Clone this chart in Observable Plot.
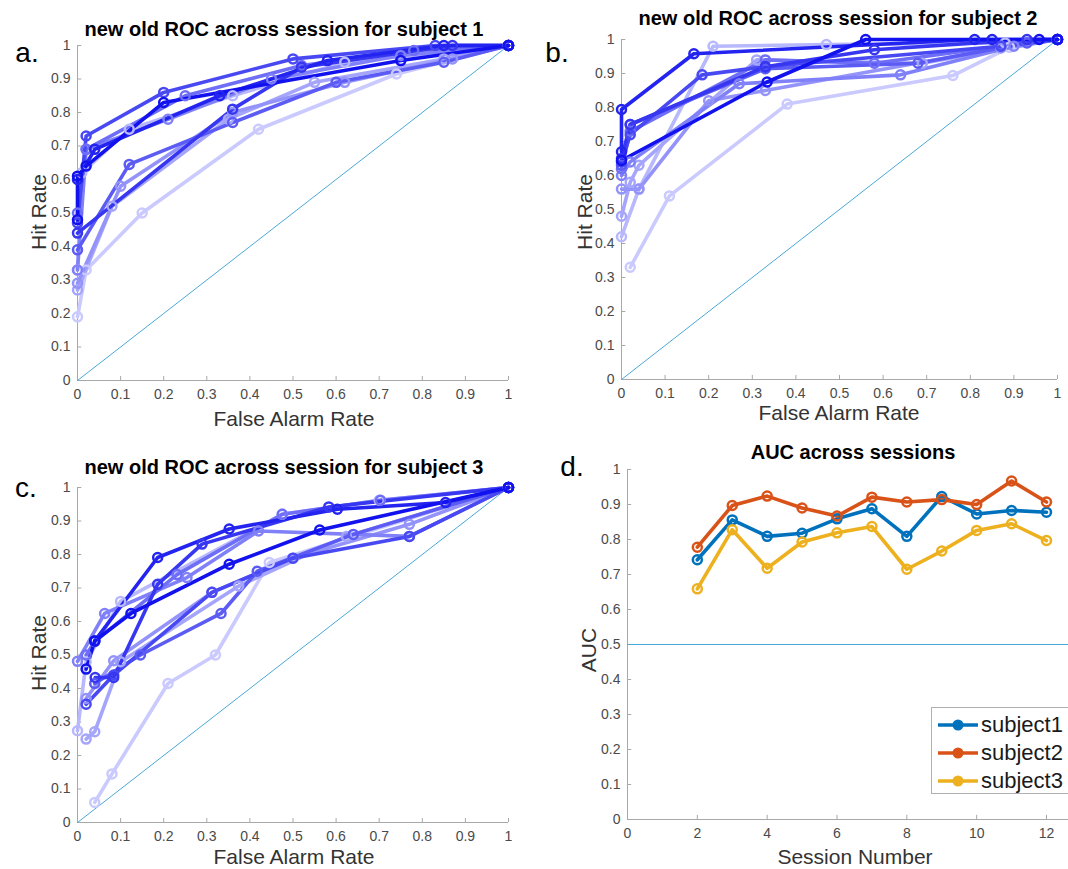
<!DOCTYPE html>
<html>
<head>
<meta charset="utf-8">
<script src="https://cdn.jsdelivr.net/npm/d3@7"></script>
<script src="https://cdn.jsdelivr.net/npm/@observablehq/plot@0.6"></script>
<style>
  body { margin: 0; background: #fff; }
  #root { position: relative; width: 1068px; height: 869px; overflow: hidden; font-family: "Liberation Sans", Arial, sans-serif; }
  .abs { position: absolute; }
  .ctr { transform: translate(-50%, -50%); white-space: nowrap; line-height: 1; }
  .title { font-weight: bold; font-size: 20px; color: #000; }
  .lab { font-size: 21px; color: #333; }
  .ylab { transform: translate(-50%, -50%) rotate(-90deg); white-space: nowrap; line-height: 1; }
  .letter { font-size: 28px; color: #000; }
</style>
</head>
<body>
<div id="root"></div>
<script>
// ---- data ----
const sessions = [2, 3, 4, 5, 6, 7, 8, 9, 10, 11, 12];

// subject 1 ROC: false alarm rate / hit rate per session
const s1FalseAlarm = [
  [0, 0.02, 0.15, 0.42, 0.74, 1],
  [0, 0.01, 0.12, 0.36, 0.62, 1],
  [0, 0.08, 0.35, 0.55, 0.85, 1],
  [0, 0.10, 0.36, 0.62, 0.87, 1],
  [0, 0.02, 0.21, 0.45, 0.75, 1],
  [0, 0.02, 0.25, 0.52, 0.78, 1],
  [0, 0.12, 0.36, 0.60, 0.85, 1],
  [0, 0.02, 0.20, 0.50, 0.83, 1],
  [0, 0.36, 0.52, 0.87, 1],
  [0, 0.04, 0.33, 0.58, 0.85, 1],
  [0, 0, 0.02, 0.20, 0.75, 1]
];
const s1Hit = [
  [0.19, 0.33, 0.50, 0.75, 0.915, 1],
  [0.33, 0.62, 0.75, 0.85, 0.95, 1],
  [0.27, 0.52, 0.78, 0.89, 0.96, 1],
  [0.29, 0.58, 0.80, 0.89, 0.96, 1],
  [0.33, 0.69, 0.78, 0.90, 0.97, 1],
  [0.50, 0.69, 0.85, 0.94, 0.985, 1],
  [0.39, 0.645, 0.77, 0.89, 0.95, 1],
  [0.47, 0.73, 0.86, 0.96, 1.0, 1],
  [0.44, 0.81, 0.935, 1.0, 1],
  [0.60, 0.69, 0.85, 0.955, 1.0, 1],
  [0.48, 0.61, 0.64, 0.83, 0.955, 1]
];

// subject 2 ROC
const s2FalseAlarm = [
  [0.02, 0.11, 0.38, 0.76, 0.89, 1],
  [0, 0.04, 0.21, 0.47, 0.88, 1],
  [0, 0.02, 0.04, 0.31, 0.69, 1],
  [0, 0.04, 0.20, 0.33, 0.87, 1],
  [0, 0.02, 0.27, 0.64, 0.90, 1],
  [0, 0.02, 0.33, 0.58, 0.87, 1],
  [0, 0.02, 0.33, 0.68, 0.93, 1],
  [0, 0.02, 0.185, 0.33, 0.87, 1],
  [0, 0.02, 0.33, 0.58, 0.93, 1],
  [0, 0, 0.166, 0.81, 0.85, 1],
  [0, 0.334, 0.56, 0.958, 1]
];
const s2Hit = [
  [0.33, 0.54, 0.81, 0.894, 0.977, 1],
  [0.42, 0.56, 0.98, 0.985, 0.99, 1],
  [0.48, 0.58, 0.63, 0.94, 0.93, 1],
  [0.56, 0.56, 0.82, 0.85, 0.975, 1],
  [0.60, 0.64, 0.87, 0.896, 0.98, 1],
  [0.62, 0.73, 0.94, 0.93, 0.98, 1],
  [0.63, 0.75, 0.914, 0.93, 0.99, 1],
  [0.64, 0.72, 0.896, 0.92, 0.98, 1],
  [0.65, 0.75, 0.92, 0.97, 1.0, 1],
  [0.67, 0.794, 0.958, 1.0, 1.0, 1],
  [0.644, 0.875, 1.0, 1.0, 1]
];

// subject 3 ROC
const s3FalseAlarm = [
  [0.04, 0.08, 0.21, 0.32, 0.445, 1],
  [0, 0.02, 0.10, 0.475, 0.70, 1],
  [0.02, 0.04, 0.10, 0.374, 0.624, 1],
  [0.02, 0.084, 0.312, 0.50, 0.77, 1],
  [0, 0.063, 0.254, 0.42, 0.77, 1],
  [0.02, 0.04, 0.231, 0.475, 0.703, 1],
  [0.04, 0.146, 0.333, 0.417, 0.64, 1],
  [0.02, 0.084, 0.312, 0.50, 0.77, 1],
  [0.041, 0.084, 0.186, 0.289, 0.583, 1],
  [0.04, 0.186, 0.352, 0.603, 0.854, 1],
  [0.02, 0.04, 0.124, 0.352, 0.562, 1]
];
const s3Hit = [
  [0.06, 0.145, 0.415, 0.50, 0.776, 1],
  [0.274, 0.48, 0.66, 0.92, 0.962, 1],
  [0.249, 0.271, 0.48, 0.706, 0.854, 1],
  [0.37, 0.483, 0.687, 0.789, 0.89, 1],
  [0.481, 0.624, 0.731, 0.87, 0.854, 1],
  [0.50, 0.54, 0.74, 0.92, 0.962, 1],
  [0.415, 0.50, 0.624, 0.75, 0.86, 1],
  [0.353, 0.44, 0.687, 0.789, 0.854, 1],
  [0.433, 0.433, 0.711, 0.831, 0.942, 1],
  [0.542, 0.791, 0.876, 0.935, 0.955, 1],
  [0.458, 0.542, 0.624, 0.771, 0.873, 1]
];

// AUC across sessions
const aucSessions = [2, 3, 4, 5, 6, 7, 8, 9, 10, 11, 12];
const aucSubject1 = [0.742, 0.856, 0.809, 0.818, 0.859, 0.888, 0.809, 0.923, 0.873, 0.883, 0.878];
const aucSubject2 = [0.778, 0.897, 0.924, 0.890, 0.867, 0.921, 0.907, 0.914, 0.900, 0.967, 0.907];
const aucSubject3 = [0.659, 0.828, 0.718, 0.793, 0.819, 0.837, 0.715, 0.767, 0.826, 0.845, 0.797];
const subjectNames = ["subject1", "subject2", "subject3"];
const subjectColors = ["#0072BD", "#D95319", "#EDB120"];

const rateTicks = d3.range(0, 11).map(i => i / 10);
const sessionTicks = [0, 2, 4, 6, 8, 10, 12];

// ---- drawing ----
const root = document.getElementById("root");
const fmt = d3.format("~g");
const axisCol = "#a8a8a8";
const plotStyle = {fontSize: "14px", fontFamily: "Liberation Sans, Arial, sans-serif", color: "#4a4a4a", background: "transparent", overflow: "visible"};

function place(el, left, top) {
  el.style.position = "absolute";
  el.style.left = left + "px";
  el.style.top = top + "px";
  root.appendChild(el);
}
function text(str, cls, x, y) {
  const d = document.createElement("div");
  d.className = "abs " + cls;
  d.textContent = str;
  d.style.left = x + "px";
  d.style.top = y + "px";
  root.appendChild(d);
}

function rocPanel(fa, hit, box) {
  const rows = [];
  sessions.forEach((s, i) => fa[i].forEach((x, j) => rows.push({session: s, x, y: hit[i][j]})));
  return Plot.plot({
    width: box.width, height: box.height,
    marginLeft: box.ml, marginRight: box.mr, marginTop: box.mt, marginBottom: box.mb,
    style: plotStyle,
    x: {domain: [0, 1]},
    y: {domain: [0, 1]},
    color: {type: "linear", domain: [2, 12], range: ["#cacaff", "#1212ee"]},
    marks: [
      Plot.ruleY([0], {stroke: axisCol}),
      Plot.ruleX([0], {stroke: axisCol}),
      Plot.ruleX(rateTicks, {x: d => d, y1: 0, y2: 0.012, stroke: axisCol}),
      Plot.ruleY(rateTicks, {y: d => d, x1: 0, x2: 0.01, stroke: axisCol}),
      Plot.axisX({ticks: rateTicks, tickFormat: fmt, tickSize: 0, tickPadding: 9, label: null}),
      Plot.axisY({ticks: rateTicks, tickFormat: fmt, tickSize: 0, tickPadding: 7, label: null}),
      Plot.line([0, 1], {x: d => d, y: d => d, stroke: "#4aa8d8", strokeWidth: 1}),
      Plot.line(rows, {x: "x", y: "y", z: "session", stroke: "session", strokeWidth: 3.6, curve: "linear"}),
      Plot.dot(rows, {x: "x", y: "y", stroke: "session", fill: "none", r: 4.5, strokeWidth: 2.5})
    ]
  });
}

// panel a
place(rocPanel(s1FalseAlarm, s1Hit, {width: 530, height: 440, ml: 77, mr: 22, mt: 45, mb: 60}), 0, 0);
// panel b
place(rocPanel(s2FalseAlarm, s2Hit, {width: 520, height: 420, ml: 81, mr: 3, mt: 39, mb: 41}), 540, 0);
// panel c
place(rocPanel(s3FalseAlarm, s3Hit, {width: 530, height: 380, ml: 77, mr: 22, mt: 27, mb: 18}), 0, 460);

// panel d
const aucRows = [];
[aucSubject1, aucSubject2, aucSubject3].forEach((arr, k) =>
  arr.forEach((v, i) => aucRows.push({subject: subjectNames[k], session: aucSessions[i], auc: v})));
const pd = Plot.plot({
  width: 508, height: 420,
  marginLeft: 67, marginRight: 0, marginTop: 39, marginBottom: 31,
  style: plotStyle,
  x: {domain: [0, 12.63]},
  y: {domain: [0, 1]},
  color: {domain: subjectNames, range: subjectColors},
  marks: [
    Plot.ruleY([0], {stroke: axisCol}),
    Plot.ruleX([0], {stroke: axisCol}),
    Plot.ruleX(sessionTicks, {x: d => d, y1: 0, y2: 0.012, stroke: axisCol}),
    Plot.ruleY(rateTicks, {y: d => d, x1: 0, x2: 0.12, stroke: axisCol}),
    Plot.axisX({ticks: sessionTicks, tickFormat: fmt, tickSize: 0, tickPadding: 9, label: null}),
    Plot.axisY({ticks: rateTicks, tickFormat: fmt, tickSize: 0, tickPadding: 7, label: null}),
    Plot.ruleY([0.5], {stroke: "#4aa8d8", strokeWidth: 1}),
    Plot.line(aucRows, {x: "session", y: "auc", z: "subject", stroke: "subject", strokeWidth: 3.6}),
    Plot.dot(aucRows, {x: "session", y: "auc", stroke: "subject", fill: "none", r: 4.5, strokeWidth: 2.5})
  ]
});
place(pd, 560, 430);

// legend for panel d
const leg = document.createElement("div");
leg.style.cssText = "position:absolute;left:931px;top:707px;width:150px;height:87px;border:1px solid #b0b0b0;background:#fff;box-sizing:border-box;";
subjectNames.forEach((name, i) => {
  const row = document.createElement("div");
  row.style.cssText = "position:absolute;left:5px;top:" + (3 + i * 28) + "px;height:28px;display:flex;align-items:center;";
  row.innerHTML = '<svg width="42" height="28"><line x1="1" y1="14" x2="41" y2="14" stroke="' + subjectColors[i] +
    '" stroke-width="3.6"/><circle cx="21" cy="14" r="4.5" fill="' + subjectColors[i] + '" stroke="' + subjectColors[i] +
    '" stroke-width="2"/></svg><span style="font-size:22px;color:#1a1a1a;margin-left:2px;">' + name + '</span>';
  leg.appendChild(row);
});
root.appendChild(leg);

// titles
text("new old ROC across session for subject 1", "title ctr", 284, 29);
text("new old ROC across session for subject 2", "title ctr", 838, 18);
text("new old ROC across session for subject 3", "title ctr", 284, 467);
text("AUC across sessions", "title ctr", 853, 452);
// axis labels
text("False Alarm Rate", "lab ctr", 294, 418);
text("False Alarm Rate", "lab ctr", 839, 412);
text("False Alarm Rate", "lab ctr", 294, 856);
text("Session Number", "lab ctr", 855, 856);
text("Hit Rate", "lab ylab", 38, 212);
text("Hit Rate", "lab ylab", 584, 212);
text("Hit Rate", "lab ylab", 38, 653);
text("AUC", "lab ylab", 588, 650);
// panel letters
text("a.", "letter ctr", 27, 53);
text("b.", "letter ctr", 557, 53);
text("c.", "letter ctr", 26, 488);
text("d.", "letter ctr", 572, 467);
</script>
</body>
</html>
